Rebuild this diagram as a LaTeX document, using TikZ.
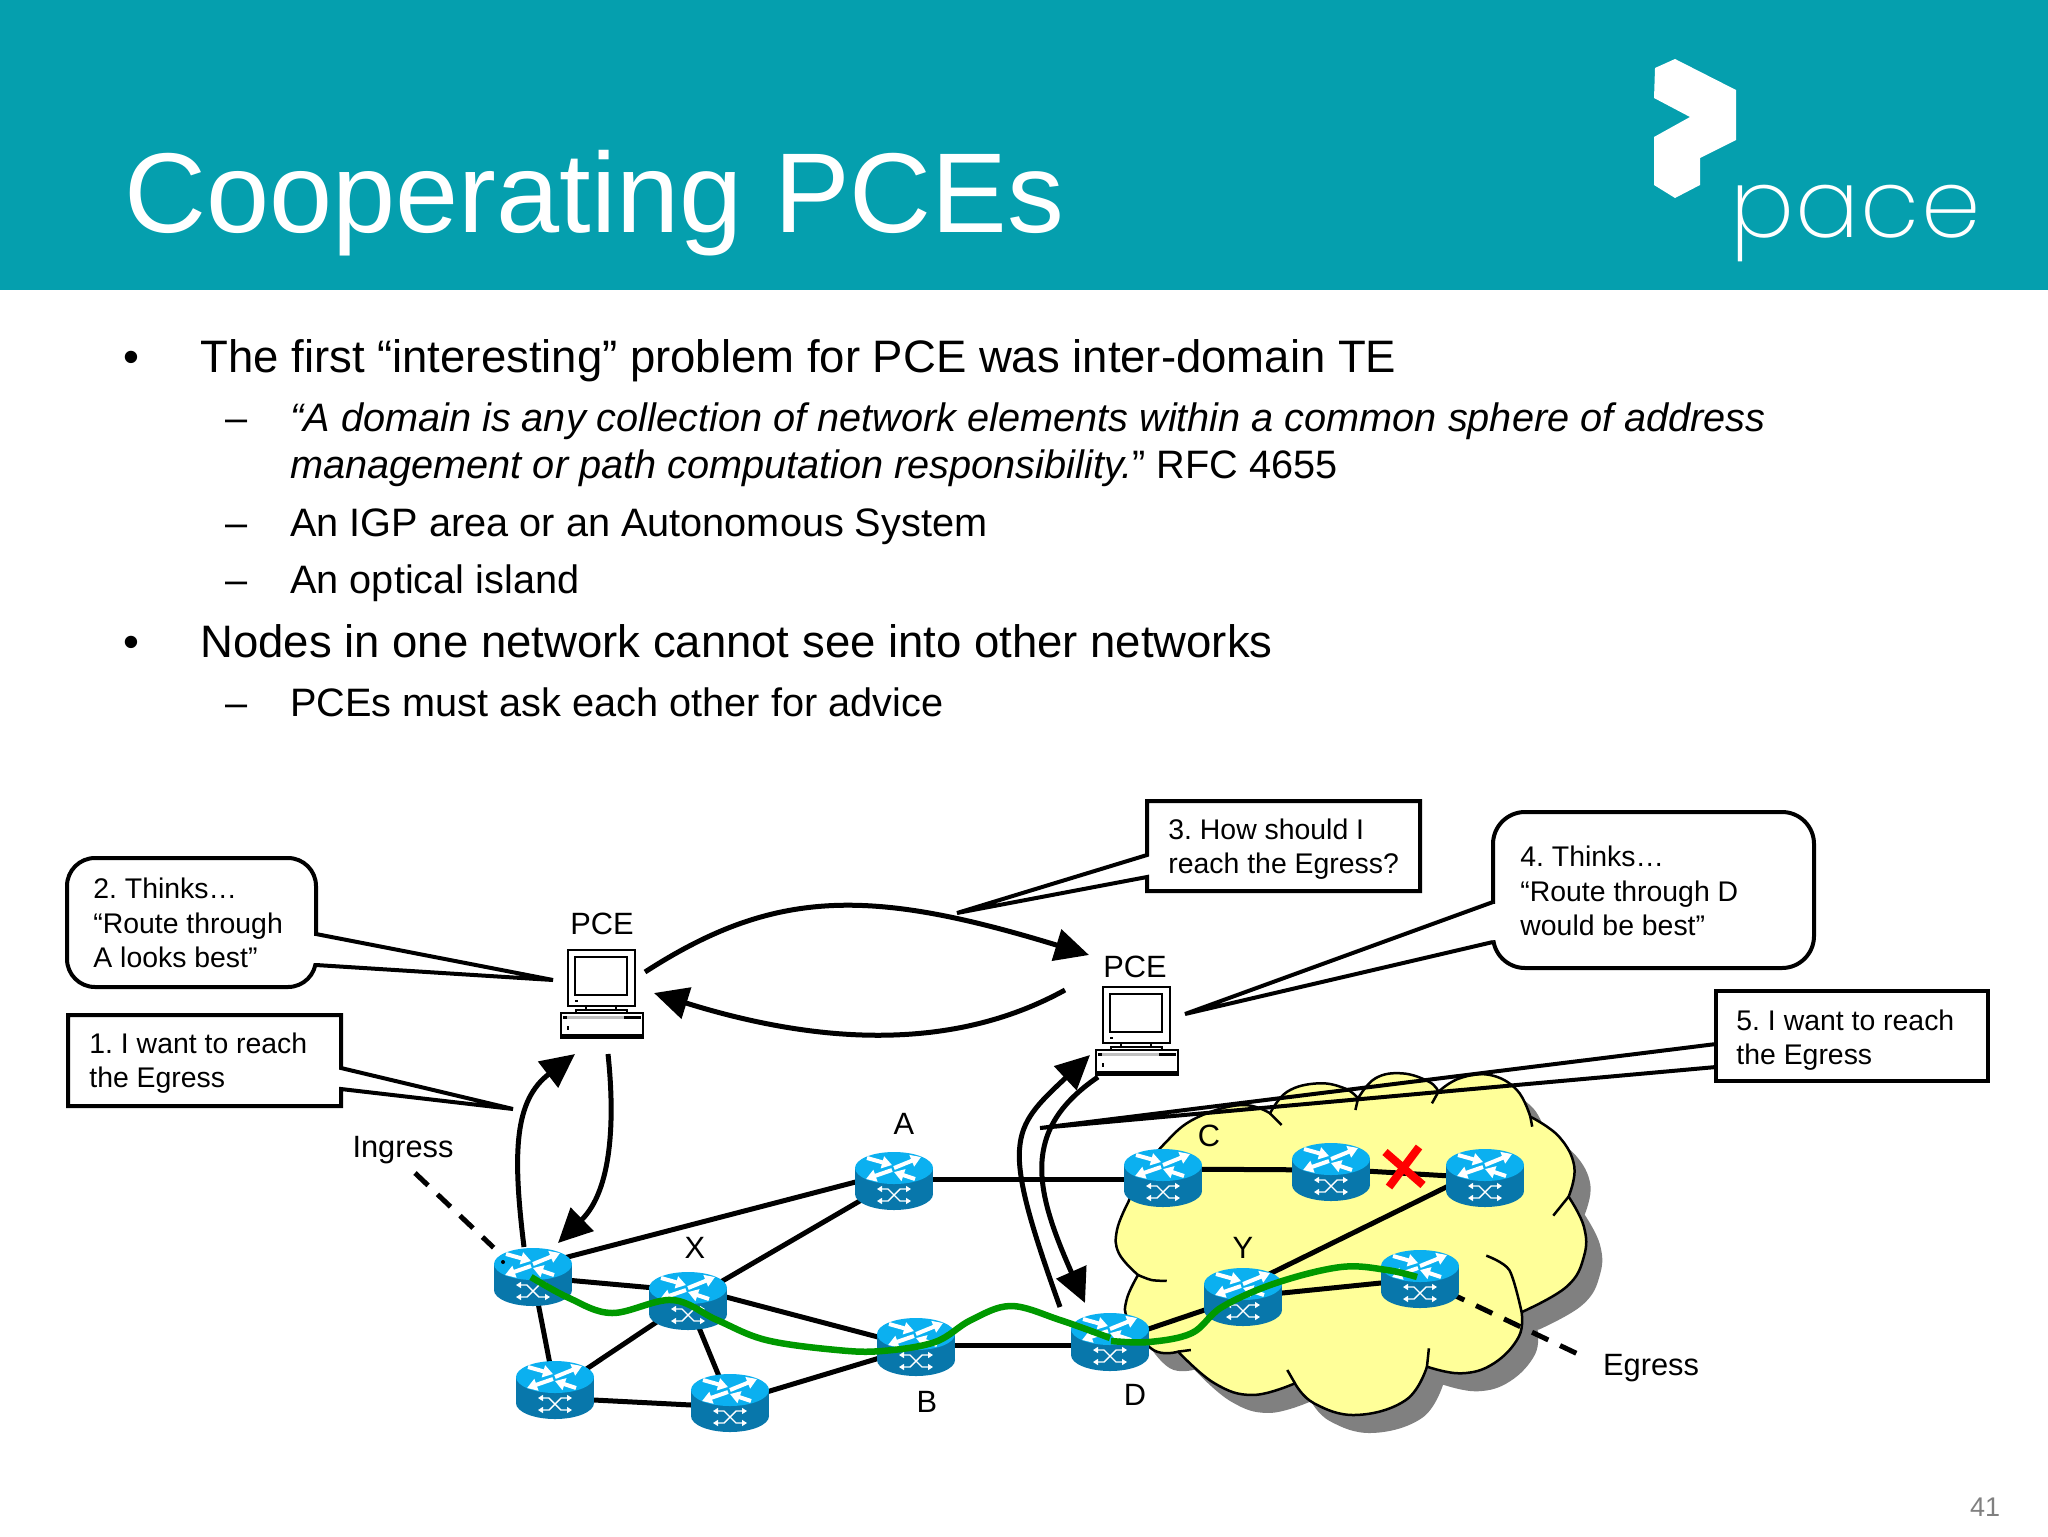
\documentclass[tikz,border=0pt]{standalone}
\usepackage{fontspec}
\setmainfont{Liberation Sans}
\newfontfamily\logofont{Poppins ExtraLight}[LetterSpace=1.2]
\usetikzlibrary{arrows.meta,calc}
\definecolor{band}{HTML}{059FAE}
\definecolor{rtop}{HTML}{0BB0F0}
\definecolor{rside}{HTML}{0877AB}
\definecolor{cloudy}{HTML}{FFFF99}
\definecolor{routegreen}{HTML}{009900}
\tikzset{
 px/.style={line width=#1*0.5pt},
 rnode/.style={rectangle,inner sep=0pt,minimum width=39pt,minimum height=29pt},
 rarrow/.style={white,line width=2pt,-{Triangle[length=5pt,width=6pt]}},
 sarrow/.style={white,line width=.7pt,{Triangle[length=2.5pt,width=3pt]}-{Triangle[length=2.5pt,width=3pt]}},
 router/.pic={
  \fill[rside] (0,13) ellipse [x radius=39,y radius=16];
  \fill[rside] (-39,-13) rectangle (39,13);
  \fill[rtop] (0,-13) ellipse [x radius=39,y radius=16];
  \draw[rarrow] (-27,-23) -- (-2,-16);
  \draw[rarrow] (0,-13) -- (27,-24);
  \draw[rarrow] (-2,-11) -- (-28,-2);
  \draw[rarrow] (21,-2) -- (0,-9);
  \draw[sarrow] (-17,8) -- (-6,8) -- (6,20) -- (17,20);
  \draw[sarrow] (-17,20) -- (-6,20) -- (6,8) -- (17,8);
 },
 computer/.pic={
  \draw[px=1.5,fill=white] (0,0) rectangle (67,56);
  \draw[px=2.5,fill=white] (7,7) rectangle (59,45);
  \fill (7,50) rectangle (10,52);
  \draw[px=1.5,fill=white] (18,56) rectangle (48,60);
  \draw[px=1.5,fill=white] (8,60) rectangle (59,63);
  \draw[px=1.5,fill=white] (-7,63) rectangle (75,88);
  \fill (-7,84) rectangle (75,88);
  \fill[gray!50] (-5,66) rectangle (73,69);
  \fill (-5,66) rectangle (-1,69);
  \fill (56,66) rectangle (73,69);
  \fill (-1,76) rectangle (1,80);
 },
 tail/.style={px=4,draw=black,line join=miter},
 big/.style={px=5,draw=black,-{Triangle[length=17pt,width=16pt]}},
 net/.style={px=5,draw=black},
 dashln/.style={px=5,draw=black,dash pattern=on 9pt off 6.5pt},
 greenln/.style={px=6.5,draw=routegreen},
 lab/.style={inner sep=0pt,font=\fontsize{15.4}{18}\selectfont},
 call/.style={inner sep=0pt,anchor=west,align=left,font=\fontsize{14.2}{17.2}\selectfont},
 lv1/.style={inner sep=0pt,anchor=base west,font=\fontsize{22.75}{26}\selectfont},
 lv2/.style={inner sep=0pt,anchor=base west,font=\fontsize{19.84}{24}\selectfont},
 cloudline/.style={px=2.5,draw=black},
}
\newcommand{\cloudoutline}{
  plot[smooth,tension=.7] coordinates {(205,455)(240,370)(300,280)(380,205)(500,165)(575,190)}
  -- plot[smooth,tension=.7] coordinates {(575,190)(620,125)(700,100)(770,115)(805,145)}
  -- plot[smooth,tension=.7] coordinates {(805,145)(850,85)(920,70)(990,95)(1015,125)}
  -- plot[smooth,tension=.7] coordinates {(1015,125)(1070,85)(1150,75)(1220,120)(1255,200)}
  -- plot[smooth,tension=.7] coordinates {(1255,200)(1330,260)(1370,350)(1355,440)}
  -- plot[smooth,tension=.7] coordinates {(1355,440)(1395,530)(1395,620)(1350,710)(1235,785)}
  -- plot[smooth,tension=.7] coordinates {(1232,785)(1225,860)(1160,940)(1075,970)(985,950)}
  -- plot[smooth,tension=.7] coordinates {(985,950)(930,1050)(800,1095)(690,1060)(640,1000)}
  -- plot[smooth,tension=.7] coordinates {(640,1000)(530,1035)(430,1000)(335,905)}
  -- plot[smooth,tension=.7] coordinates {(335,905)(270,900)(205,810)(200,750)(230,675)}
  -- plot[smooth,tension=.7] coordinates {(230,675)(180,610)(175,540)(205,455)}
  -- cycle
}
\begin{document}
\frenchspacing
\begin{tikzpicture}[x=0.5pt,y=-0.5pt]
\useasboundingbox (0,0) rectangle (2048,1536);
\fill[white] (0,0) rectangle (2048,1536);
\fill[band] (0,0) rectangle (2048,290);
\fill[white] (1655,68) -- (1675,59) -- (1736,90) -- (1736,140) -- (1700,158) -- (1700,185) -- (1675,198) -- (1654,185) -- (1654,137) -- (1690,117) -- (1654,98) -- cycle;
\node[inner sep=0pt,anchor=base west,text=white,font=\logofont\fontsize{47.6}{50}\selectfont] (logo) at (1730,237) {pace};
\node[inner sep=0pt,anchor=base west,text=white,font=\fontsize{56.75}{60}\selectfont] (title) at (124,232) {Cooperating PCEs};
% body text
\node[lv1,anchor=base] (b1) at (131,372) {•};
\node[lv1] (t1) at (200,372) {The first “interesting” problem for PCE was inter-domain TE};
\node[lv2] (d1) at (225,431) {–};
\node[lv2] (t2) at (290,431) {\textit{“A domain is any collection of network elements within a common sphere of address}};
\node[lv2] (t3) at (290,478) {\textit{management or path computation responsibility.}” RFC 4655};
\node[lv2] (d2) at (225,536) {–};
\node[lv2] (t4) at (290,536) {An IGP area or an Autonomous System};
\node[lv2] (d3) at (225,593) {–};
\node[lv2] (t5) at (290,593) {An optical island};
\node[lv1,anchor=base] (b2) at (131,657) {•};
\node[lv1] (t6) at (200,657) {Nodes in one network cannot see into other networks};
\node[lv2] (d4) at (225,716) {–};
\node[lv2] (t7) at (290,716) {PCEs must ask each other for advice};
% cloud
\begin{scope}[shift={(1050,1050)},xscale=0.3827,yscale=0.3333]
 \fill[black!50,shift={(42,54)}] \cloudoutline;
 \path[fill=cloudy,cloudline] \cloudoutline;
 \draw[cloudline] plot[smooth] coordinates {(575,190)(605,225)};
 \draw[cloudline] (805,145) -- (798,180);
 \draw[cloudline] (1015,125) -- (998,160);
 \draw[cloudline] (1255,200) -- (1260,230);
 \draw[cloudline] (1355,440) -- (1315,497);
 \draw[cloudline] plot[smooth] coordinates {(1140,617)(1200,660)(1232,785)};
 \draw[cloudline] (985,950) -- (990,895);
 \draw[cloudline] (640,1000) -- (620,960);
 \draw[cloudline] (335,905) -- (368,900);
 \draw[cloudline] plot[smooth] coordinates {(230,675)(265,690)(305,693)};
\end{scope}
% router anchors
\node[rnode] (r1) at (533,1277) {};
\node[rnode] (x) at (688,1301) {};
\node[rnode] (a) at (894,1181) {};
\node[rnode] (b) at (916,1347) {};
\node[rnode] (d) at (1110,1342) {};
\node[rnode] (r6) at (555,1390) {};
\node[rnode] (r7) at (730,1403) {};
\node[rnode] (c) at (1163,1178) {};
\node[rnode] (m) at (1331,1172) {};
\node[rnode] (e) at (1485,1178) {};
\node[rnode] (y) at (1243,1297) {};
\node[rnode] (z) at (1420,1279) {};
% network links
\draw[net] ([yshift=5.5pt]r1.center) -- ([yshift=4.5pt]a.center);
\draw[net] (r1.center) -- ([yshift=5pt]x.center);
\draw[net] (r1.center) -- (r6.center);
\draw[net] (x.center) -- (a.center);
\draw[net] ([yshift=7pt]x.center) -- (b.center);
\draw[net] (x.center) -- (r6.center);
\draw[net] (x.center) -- (r7.center);
\draw[net] ([yshift=-4pt]r6.center) -- ([yshift=-2pt]r7.center);
\draw[net] (r7.center) -- (b.center);
\draw[net] ([yshift=1pt]b.center) -- ([yshift=-1.5pt]d.center);
\draw[net] ([yshift=1pt]a.center) -- ([yshift=-.5pt]c.center);
\draw[net] ([yshift=4.5pt]c.center) -- ([yshift=1pt]m.center);
\draw[net] ([yshift=1.5pt]m.center) -- (e.center);
\draw[net] ([yshift=5pt]e.center) -- ([yshift=5pt]y.center);
\draw[net] (y.center) -- (d.center);
\draw[net] (y.center) -- (z.center);
% dashed leaders
\coordinate (ingr) at (415,1173);
\coordinate (egr) at (1580,1355);
\draw[dashln] (ingr) -- (r1.north west);
\draw[dashln] (z.center) -- (egr);
% routers
\foreach \n in {r1,x,a,b,d,r6,r7,c,m,e,y,z} { \pic at (\n) {router}; }
\coordinate (speck) at (503,1262);
\fill (speck) circle [radius=2];
% failure mark
\coordinate (xa) at (1385,1152); \coordinate (xb) at (1423,1185);
\coordinate (xc) at (1419,1147); \coordinate (xd) at (1389,1187);
\draw[red,px=8] (xa) -- (xb);
\draw[red,px=8] (xc) -- (xd);
% green route
\draw[greenln] plot[smooth,tension=.6] coordinates {(531,1277)(569,1298)(612,1313)(672,1300)(717,1320)(766,1340)(837,1350)(882,1351)(935,1342)(971,1320)(1011,1306)(1060,1320)(1110,1338)};
\draw[greenln] plot[smooth,tension=.6] coordinates {(1111,1341)(1149,1342)(1192,1333)(1222,1307)(1276,1283)(1341,1267)(1387,1270)(1417,1277)};
% computers
\coordinate (pc1) at (568,950);
\coordinate (pc2) at (1103,987);
\pic at (pc1) {computer};
\pic at (pc2) {computer};
% PCE arrows
\coordinate (u1) at (645,972); \coordinate (u2) at (1089,955);
\coordinate (l1) at (1065,990); \coordinate (l2) at (654,993);
\draw[big] (u1) .. controls (775,888) and (870,888) .. (u2);
\draw[big] (l1) .. controls (960,1048) and (830,1048) .. (l2);
\coordinate (i1) at (524,1247); \coordinate (i2) at (575,1054);
\coordinate (i3) at (608,1054); \coordinate (i4) at (558,1243);
\draw[big] (i1) .. controls (512,1150) and (515,1100) .. (i2);
\draw[big] (i3) .. controls (615,1120) and (612,1190) .. (i4);
\coordinate (k1) at (1060,1307); \coordinate (k2) at (1090,1055);
\coordinate (k3) at (1098,1077); \coordinate (k4) at (1085,1303);
\draw[big] (k1) .. controls (1000,1140) and (1010,1130) .. (k2);
\draw[big] (k3) .. controls (1020,1130) and (1035,1190) .. (k4);
% callouts
\path[tail,fill=white] (1147,855) -- (957,913) -- (1147,877) -- (1147,891) -- (1420,891) -- (1420,801) -- (1147,801) -- cycle;
\node[call] (c3) at (1168,849) {3. How should I\\reach the Egress?};
\path[tail,fill=white] (341,1068) -- (513,1109) -- (341,1089) -- (341,1106) -- (68,1106) -- (68,1015) -- (341,1015) -- cycle;
\node[call] (c1) at (89,1063) {1. I want to reach\\the Egress};
\path[tail,fill=white,rounded corners=14pt] (67,858) rectangle (316,987);
\fill[white] (313,936) rectangle (319,963);
\path[tail,fill=white] (316,934) -- (553,980) -- (316,965);
\node[call] (c2) at (93,923) {2. Thinks…\\“Route through\\A looks best”};
\path[tail,fill=white,rounded corners=16pt] (1493,812) rectangle (1814,968);
\fill[white] (1490,904) rectangle (1496,940);
\path[tail,fill=white] (1493,902) -- (1185,1014) -- (1493,942);
\node[call] (c4) at (1520,891) {4. Thinks…\\“Route through D\\would be best”};
\path[tail] (1716,1044) -- (1040,1128) -- (1716,1067);
\path[tail,fill=white] (1716,991) rectangle (1988,1081);
\node[call] (c5) at (1736,1040) {5. I want to reach\\the Egress};
% labels
\node[lab] (pl1) at (602,924) {PCE};
\node[lab] (pl2) at (1135,967) {PCE};
\node[lab] (li) at (403,1150) {Ingress};
\node[lab] (le) at (1651,1368) {Egress};
\node[lab] (la) at (904,1124) {A};
\node[lab] (lx) at (695,1248) {X};
\node[lab] (lb) at (927,1402) {B};
\node[lab] (ld) at (1135,1395) {D};
\node[lab] (lc) at (1209,1136) {C};
\node[lab] (ly) at (1243,1248) {Y};
\node[inner sep=0pt,text=black!50,font=\fontsize{13.5}{16}\selectfont] (num) at (1985,1507) {41};
\end{tikzpicture}
\end{document}
